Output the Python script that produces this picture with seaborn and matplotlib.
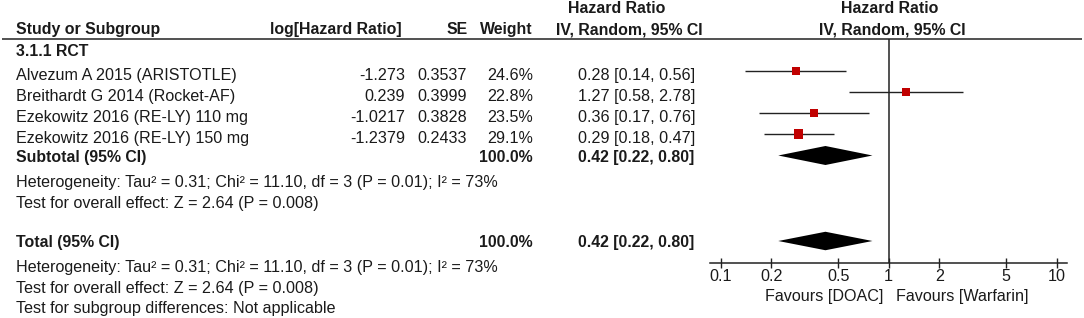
import numpy as np
import pandas as pd
import matplotlib
matplotlib.use("Agg")
import matplotlib.pyplot as plt
import seaborn as sns

# ---- data ----
studies = ["Alvezum A 2015 (ARISTOTLE)", "Breithardt G 2014 (Rocket-AF)",
           "Ezekowitz 2016 (RE-LY) 110 mg", "Ezekowitz 2016 (RE-LY) 150 mg"]
log_hr = ["-1.273", "0.239", "-1.0217", "-1.2379"]
se = ["0.3537", "0.3999", "0.3828", "0.2433"]
weight = [24.6, 22.8, 23.5, 29.1]
hr = [0.28, 1.27, 0.36, 0.29]
hr_lo = [0.14, 0.58, 0.17, 0.18]
hr_hi = [0.56, 2.78, 0.76, 0.47]
pooled = [0.42, 0.22, 0.80]  # estimate, low, high
ticks = [0.1, 0.2, 0.5, 1, 2, 5, 10]
tick_labels = ["0.1", "0.2", "0.5", "1", "2", "5", "10"]
subgroup = "3.1.1 RCT"
het_text = "Heterogeneity: Tau\u00b2 = 0.31; Chi\u00b2 = 11.10, df = 3 (P = 0.01); I\u00b2 = 73%"
effect_text = "Test for overall effect: Z = 2.64 (P = 0.008)"
subdiff_text = "Test for subgroup differences: Not applicable"
fav_left, fav_right = "Favours [DOAC]", "Favours [Warfarin]"

sns.set_theme(style="white")
plt.rcParams["font.family"] = ["Liberation Sans", "DejaVu Sans"]
FS = 11.65
FSB = 11.4
TXT = "#1a1a1a"
LINE = "#222222"
RED = "#c00000"

W, H = 1084, 318
fig = plt.figure(figsize=(W / 100, H / 100), dpi=100)
bg = fig.add_axes([0, 0, 1, 1])
bg.set_xlim(0, W)
bg.set_ylim(H, 0)
bg.axis("off")


def t(x, y, s, ha="left", bold=False, **kw):
    bg.text(x, y, s, ha=ha, va="baseline", fontsize=FSB if bold else FS, color=TXT,
            fontweight="bold" if bold else "normal", **kw)

# headers
t(16, 34.3, "Study or Subgroup", bold=True)
t(336, 34.3, "log[Hazard Ratio]", ha="center", bold=True)
t(468, 34.3, "SE", ha="right", bold=True)
t(533, 34.3, "Weight", ha="right", bold=True)
t(616.5, 13.3, "Hazard Ratio", ha="center", bold=True)
t(629, 34.3, "IV, Random, 95% CI", ha="center", bold=True)
t(890, 13.3, "Hazard Ratio", ha="center", bold=True)
t(892, 34.3, "IV, Random, 95% CI", ha="center", bold=True)
bg.plot([2, 1082], [39, 39], color=LINE, lw=1.1, solid_capstyle="butt")

t(16, 55.7, subgroup, bold=True)
row_base = [80, 101, 121.7, 142.7]
for i, name in enumerate(studies):
    y = row_base[i]
    t(16, y, name)
    t(405, y, log_hr[i], ha="right")
    t(467, y, se[i], ha="right")
    t(533, y, f"{weight[i]:.1f}%", ha="right")
    t(695, y, f"{hr[i]:.2f} [{hr_lo[i]:.2f}, {hr_hi[i]:.2f}]", ha="right")

pooled_str = f"{pooled[0]:.2f} [{pooled[1]:.2f}, {pooled[2]:.2f}]"
total_w = f"{sum(weight):.1f}%"
t(16, 162.3, "Subtotal (95% CI)", bold=True)
t(533, 162.3, total_w, ha="right", bold=True)
t(694, 162.3, pooled_str, ha="right", bold=True)
t(16, 187.3, het_text)
t(16, 207.7, effect_text)
t(16, 247.3, "Total (95% CI)", bold=True)
t(533, 247.3, total_w, ha="right", bold=True)
t(694, 247.3, pooled_str, ha="right", bold=True)
t(16, 272, het_text)
t(16, 292.7, effect_text)
t(16, 312.7, subdiff_text)

# ---- forest axes (y in pixel units) ----
x0, x1 = 710, 1066.7
ytop, ybot = 39, 262.7
ax = fig.add_axes([x0 / W, 1 - ybot / H, (x1 - x0) / W, (ybot - ytop) / H])
ax.set_facecolor("none")
ax.set_xscale("log")
ax.set_xlim(0.0863, 11.47)
ax.set_ylim(ybot, ytop)

mark_y = [71, 91.8, 113, 134.3]
df = pd.DataFrame({"hr": hr, "lo": hr_lo, "hi": hr_hi, "w": weight, "y": mark_y})
ax.hlines(df["y"], df["lo"], df["hi"], color=LINE, lw=1.0)
sns.scatterplot(data=df, x="hr", y="y", size="w", sizes=(30, 48), size_norm=(22.8, 29.1),
                marker="s", color=RED, edgecolor="none", legend=False, ax=ax, zorder=3)

for yc, hh in [(155.5, 19), (241, 18.5)]:
    ax.fill([pooled[1], pooled[0], pooled[2], pooled[0]],
            [yc, yc - hh / 2, yc, yc + hh / 2], color="black", lw=0, zorder=3)

ax.axvline(1, color=LINE, lw=1.1, zorder=1)
for s in ["top", "right", "left"]:
    ax.spines[s].set_visible(False)
ax.spines["bottom"].set_color(LINE)
ax.spines["bottom"].set_linewidth(1.1)
ax.set_yticks([])
ax.set_xticks(ticks)
ax.set_xticklabels(tick_labels)
ax.minorticks_off()
ax.tick_params(axis="x", which="major", direction="inout", length=7.5, width=1.0,
               color=LINE, labelsize=FS, labelcolor=TXT, pad=0.5, bottom=True)
ax.set_xlabel("")
ax.set_ylabel("")
ax.grid(False)

t(883, 300.7, fav_left, ha="right")
t(896, 300.7, fav_right, ha="left")

fig.savefig("out.png", dpi=100)
